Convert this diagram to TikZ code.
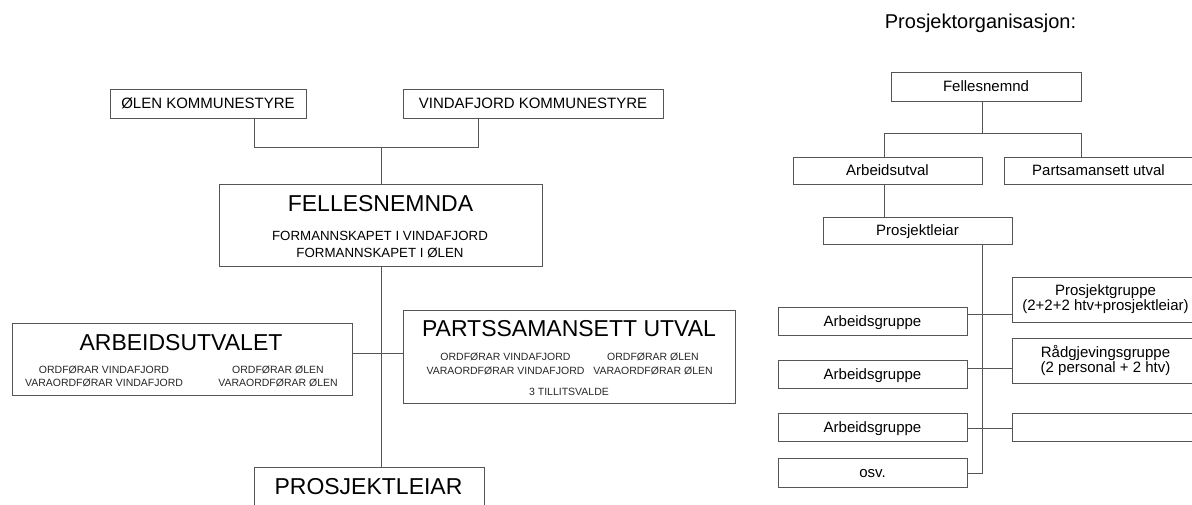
\documentclass[tikz,border=0pt]{standalone}
\usepackage{fontspec}
\setmainfont{Liberation Sans}
\definecolor{linegray}{HTML}{555555}

\begin{document}
\begin{tikzpicture}[
  x=1pt, y=-1pt,
  box/.style={draw=linegray, line width=1pt, inner sep=0pt, align=center},
  lbl/.style={font=\fontsize{15}{15}\selectfont, text height=10.7pt, text depth=0pt},
  lbltwo/.style={font=\fontsize{15}{15}\selectfont},
  big/.style={font=\fontsize{23}{27}\selectfont, inner sep=0pt, text height=16.5pt, text depth=0pt},
  mid/.style={font=\fontsize{13.3}{17}\selectfont, align=center, inner sep=0pt},
  small/.style={font=\fontsize{10.5}{13.5}\selectfont, align=center, inner sep=0pt, text=black!85},
  link/.style={draw=linegray, line width=1pt}
]
\useasboundingbox (0,0) rectangle (1192,504);
\clip (0,0) rectangle (1192,504);

% left chart
\node[box, lbl, minimum width=196, minimum height=29] (olen) at (208,103.5) {ØLEN KOMMUNESTYRE};
\node[box, lbl, minimum width=260, minimum height=29] (vindafjord) at (533,103.5) {VINDAFJORD KOMMUNESTYRE};

\node[box, minimum width=323, minimum height=82] (fellesnemnda) at (380.5,225) {};
\node[big] (fellesnemnda-title) at (380.5,203) {FELLESNEMNDA};
\node[mid] (fellesnemnda-members) at (380,244.5) {FORMANNSKAPET I VINDAFJORD\\FORMANNSKAPET I ØLEN};

\node[box, minimum width=340, minimum height=72] (arbeidsutvalet) at (182,359) {};
\node[big] (arbeidsutvalet-title) at (181,342) {ARBEIDSUTVALET};
\node[small] (arbeidsutvalet-vf) at (104,376.5) {ORDFØRAR VINDAFJORD\\VARAORDFØRAR VINDAFJORD};
\node[small] (arbeidsutvalet-ol) at (278,376.5) {ORDFØRAR ØLEN\\VARAORDFØRAR ØLEN};

\node[box, minimum width=332, minimum height=93] (partsutval) at (569,356.5) {};
\node[big] (partsutval-title) at (569,328) {PARTSSAMANSETT UTVAL};
\node[small] (partsutval-vf) at (505.5,364) {ORDFØRAR VINDAFJORD\\VARAORDFØRAR VINDAFJORD};
\node[small] (partsutval-ol) at (653,364) {ORDFØRAR ØLEN\\VARAORDFØRAR ØLEN};
\node[small, text height=7.5pt, text depth=0pt] (partsutval-tv) at (569,392) {3 TILLITSVALDE};

\node[box, minimum width=230, minimum height=60] (prosjektleiar) at (369,497) {};
\node[big] (prosjektleiar-title) at (368.5,486) {PROSJEKTLEIAR};

\coordinate (top) at (381,147);
\coordinate (mid) at (381,353);
\draw[link] ([xshift=46]olen.south) |- (top);
\draw[link] ([xshift=-55]vindafjord.south) |- (top);
\draw[link] (top) -- (top |- fellesnemnda.north);
\draw[link] (mid |- fellesnemnda.south) -- (mid |- prosjektleiar.north);
\draw[link] (arbeidsutvalet.east |- mid) -- (partsutval.west |- mid);

% right chart
\node[font=\fontsize{20}{20}\selectfont, inner sep=0pt, text height=14.3pt, text depth=0pt] (title) at (980.5,21.5) {Prosjektorganisasjon:};
\node[box, lbl, minimum width=190, minimum height=29] (fn) at (986,86.5) {Fellesnemnd};
\node[box, lbl, minimum width=189, minimum height=27] (au) at (887.5,170.5) {Arbeidsutval};
\node[box, lbl, minimum width=189, minimum height=27] (pu) at (1098.5,170.5) {Partsamansett utval};
\node[box, lbl, minimum width=189, minimum height=27] (pl) at (917.5,230.5) {Prosjektleiar};
\node[box, lbl, minimum width=189, minimum height=28] (ag1) at (872.5,321) {Arbeidsgruppe};
\node[box, lbl, minimum width=189, minimum height=28] (ag2) at (872.5,374) {Arbeidsgruppe};
\node[box, lbl, minimum width=189, minimum height=28] (ag3) at (872.5,427) {Arbeidsgruppe};
\node[box, lbl, minimum width=189, minimum height=29] (osv) at (872.5,472.5) {osv.};
\node[box, lbltwo, minimum width=187, minimum height=45] (pg) at (1105.5,299.5) {Prosjektgruppe\\(2+2+2 htv+prosjektleiar)};
\node[box, lbltwo, minimum width=187, minimum height=45] (rg) at (1105.5,360.5) {Rådgjevingsgruppe\\(2 personal + 2 htv)};
\node[box, minimum width=187, minimum height=28] (eg) at (1105.5,427) {};

\coordinate (fork) at (982,133);
\coordinate (spine) at (982,473);
\draw[link] (fork |- fn.south) -- (fork);
\draw[link] ([xshift=-3.5]au.north) |- (fork);
\draw[link] (fork) -| ([xshift=-17.5]pu.north);
\draw[link] ([xshift=-3.5]au.south) -- ([xshift=-3.5]au.south |- pl.north);
\draw[link] (spine |- pl.south) -- (spine) -- (osv.east |- spine);
\foreach \g/\p/\y in {ag1/pg/314, ag2/rg/368, ag3/eg/428}
  \draw[link] (\g.east |- 0,\y) -- (\p.west |- 0,\y);
\end{tikzpicture}
\end{document}
